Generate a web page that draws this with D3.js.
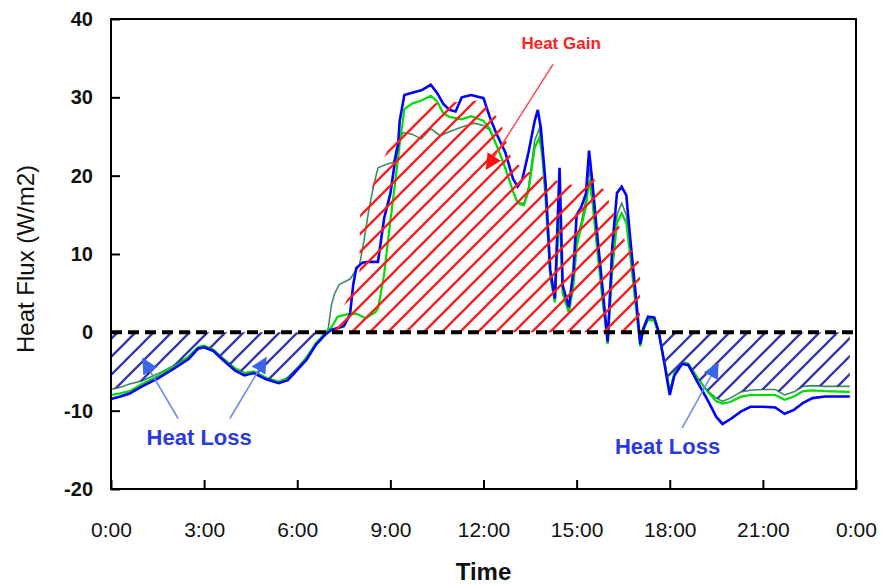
<!DOCTYPE html>
<html><head><meta charset="utf-8">
<script src="https://cdn.jsdelivr.net/npm/d3@7/dist/d3.min.js"></script>
<style>
html,body{margin:0;padding:0;background:#fff;}
svg{display:block;font-family:"Liberation Sans",Arial,sans-serif;}
</style></head>
<body><svg id="chart" width="885" height="584"></svg>
<script>
// ---------- data (hour of day, heat flux W/m2) ----------
const xTickHours = [0,3,6,9,12,15,18,21,24];
const xTickLabels = ["0:00","3:00","6:00","9:00","12:00","15:00","18:00","21:00","0:00"];
const yTicks = [-20,-10,0,10,20,30,40];
const yTickLabels = ["-20","-10","0","10","20","30","40"];

const blueSeries = [
[0,-8.5],[0.3,-8.2],[0.6,-7.8],[1.0,-6.9],[1.5,-5.9],[2.0,-4.7],[2.5,-3.4],[2.8,-2.1],[3.0,-1.9],
[3.3,-2.4],[3.6,-3.5],[4.0,-4.9],[4.3,-5.5],[4.6,-5.2],[5.0,-6.0],[5.4,-6.5],[5.7,-6.1],[6.0,-4.8],
[6.3,-3.5],[6.6,-1.6],[6.9,-0.3],[7.1,0.3],[7.5,0.8],[7.7,2.3],[7.8,6.0],[7.9,8.2],[8.1,8.9],
[8.3,9.0],[8.6,9.0],[8.8,14.6],[9.0,17.7],[9.15,21.9],[9.25,24],[9.3,27],[9.45,30.3],[9.7,30.6],
[10.0,30.9],[10.3,31.6],[10.5,30.6],[10.7,29.2],[10.9,28.4],[11.1,28.2],[11.3,30.0],[11.6,30.3],
[12.0,29.9],[12.2,27.5],[12.4,25.5],[12.7,23],[12.95,19.6],[13.1,18.6],[13.25,19.5],[13.45,23],
[13.65,27],[13.75,28.4],[13.85,26],[14.0,19],[14.15,8],[14.3,4.3],[14.45,21],[14.55,6],[14.75,3.2],
[14.9,8],[15.0,15],[15.15,16],[15.3,17.7],[15.4,23.2],[15.5,19.5],[15.65,13],[15.85,5],[16.0,-1.2],
[16.15,11],[16.3,17.8],[16.45,18.6],[16.6,17.5],[16.75,11],[16.9,5],[17.05,-1.5],[17.15,0.5],
[17.3,2.0],[17.5,1.9],[17.65,0],[17.85,-4.5],[18.0,-8],[18.15,-5.5],[18.4,-4.0],[18.6,-4.2],
[18.9,-6.4],[19.2,-8.5],[19.5,-10.8],[19.7,-11.7],[19.95,-11.1],[20.3,-10.1],[20.6,-9.5],[21.0,-9.5],
[21.4,-9.6],[21.7,-10.4],[22.0,-9.9],[22.3,-9.0],[22.6,-8.4],[23.0,-8.2],[23.6,-8.2],[23.8,-8.2]];

const greenSeries = [
[0,-8.0],[0.3,-7.8],[0.6,-7.5],[1.0,-6.6],[1.5,-5.6],[2.0,-4.4],[2.5,-3.1],[2.8,-1.9],[3.0,-1.7],
[3.3,-2.2],[3.6,-3.3],[4.0,-4.6],[4.3,-5.2],[4.6,-5.0],[5.0,-5.8],[5.4,-6.3],[5.7,-5.8],[6.0,-4.6],
[6.3,-3.2],[6.6,-1.4],[6.9,-0.1],[7.1,0.6],[7.3,2.0],[7.6,2.3],[7.9,2.4],[8.2,1.8],[8.5,2.5],
[8.6,3.0],[8.8,7.4],[8.95,12.6],[9.15,19],[9.3,24],[9.45,28.5],[9.7,29.2],[10.0,29.6],[10.3,30.2],
[10.5,29.5],[10.7,28.0],[10.9,27.5],[11.3,27.2],[11.6,27.6],[12.0,27.0],[12.2,26],[12.45,23.6],
[12.7,21],[12.95,18],[13.1,16.5],[13.3,16.2],[13.45,18],[13.65,23.6],[13.8,24.9],[13.9,22.3],
[14.0,17],[14.15,7],[14.3,3.8],[14.45,16],[14.55,5],[14.75,2.5],[14.9,6],[15.0,11],[15.15,13.5],
[15.3,16],[15.4,19.5],[15.5,17],[15.65,11],[15.85,3.5],[16.0,-1.5],[16.15,8],[16.3,14],[16.45,15.2],
[16.6,14],[16.75,9],[16.9,3.5],[17.05,-1.8],[17.15,0.3],[17.3,1.6],[17.5,1.5],[17.65,-0.3],
[17.85,-4.2],[18.0,-7.5],[18.15,-5.2],[18.4,-3.8],[18.6,-4.0],[18.9,-5.8],[19.2,-7.5],[19.5,-8.8],
[19.7,-9.1],[19.95,-8.9],[20.3,-8.2],[20.6,-8.0],[21.0,-8.0],[21.4,-8.0],[21.7,-8.6],[22.0,-8.2],
[22.3,-7.5],[22.6,-7.4],[23.0,-7.5],[23.8,-7.6]];

const darkGreenSeries = [
[0,-7.3],[0.3,-7.0],[0.6,-6.6],[1.0,-6.2],[1.5,-5.3],[2.0,-4.3],[2.5,-3.1],[2.8,-1.9],[3.0,-1.7],
[3.3,-2.2],[3.6,-3.3],[4.0,-4.6],[4.3,-5.2],[4.6,-5.0],[5.0,-5.8],[5.4,-6.3],[5.7,-5.8],[6.0,-4.6],
[6.3,-3.2],[6.6,-1.4],[6.9,-0.1],[7.0,0.5],[7.1,3.5],[7.2,4.9],[7.35,6.1],[7.7,6.8],[8.0,8.5],
[8.15,11.7],[8.3,15.5],[8.45,18.5],[8.6,21],[8.9,21.5],[9.1,21.7],[9.2,23.6],[9.4,25.5],[9.7,25.3],
[10.0,24.7],[10.3,26],[10.6,25.1],[10.9,25.6],[11.3,26.2],[11.7,26.7],[12.0,26.4],[12.2,25.8],
[12.45,23.6],[12.7,21],[12.95,18],[13.1,16.6],[13.3,16.4],[13.45,18.5],[13.65,24.5],[13.8,26],
[13.9,23],[14.0,17.5],[14.15,7.5],[14.3,4],[14.45,17],[14.55,5],[14.75,2.7],[14.9,6.5],[15.0,12],
[15.15,14],[15.3,17],[15.4,21],[15.5,18],[15.65,12],[15.85,4],[16.0,-1.3],[16.15,9],[16.3,15],
[16.45,16.5],[16.6,15],[16.75,9.5],[16.9,4],[17.05,-1.6],[17.15,0.4],[17.3,1.8],[17.5,1.7],
[17.65,-0.2],[17.85,-4.3],[18.0,-7.6],[18.15,-5.3],[18.4,-3.9],[18.6,-4.1],[18.9,-5.9],[19.2,-7.4],
[19.5,-8.4],[19.7,-8.8],[19.95,-8.4],[20.3,-7.6],[20.6,-7.4],[21.0,-7.3],[21.4,-7.3],[21.7,-8.0],
[22.0,-7.6],[22.3,-6.9],[22.6,-6.8],[23.0,-6.9],[23.8,-6.9]];

// hand-drawn hatched "heat gain" outline
const gainOutline = [
[7.06,0],[7.7,4.9],[8.0,5.9],[8.02,14.9],[9.08,24.9],[9.3,26.4],[10.28,29.2],[11.9,29.6],
[12.53,27.1],[12.92,21.9],[13.5,20.4],[14.14,19.6],[14.95,18.7],[15.37,20.4],[15.9,18.1],
[16.56,11.7],[17.04,8.8],[17.04,0]];

// annotations [label, hour, value]
const gainLabel = ["Heat Gain", 14.5, 36.2];
const lossLabels = [["Heat Loss", 2.84, -14.4], ["Heat Loss", 17.93, -15.5]];
const gainArrow = [[14.24,34.2],[12.1,20.9]];
const lossArrows = [
  [[2.16,-11.0],[1.03,-3.4]],
  [[3.83,-11.0],[4.99,-3.3]],
  [[18.4,-12.2],[19.55,-4.0]]
];

// ---------- drawing ----------
const svg = d3.select("#chart");
const L = 111, R = 856, T = 19, B = 489;
const x = d3.scaleLinear().domain([0,24]).range([L,R]);
const y = d3.scaleLinear().domain([-20,40]).range([B,T]);

const defs = svg.append("defs");
function hatch(id, color){
  defs.append("pattern").attr("id",id).attr("patternUnits","userSpaceOnUse")
    .attr("width",18).attr("height",18)
    .append("path").attr("d","M-4.5,4.5 L4.5,-4.5 M0,18 L18,0 M13.5,22.5 L22.5,13.5")
    .attr("stroke",color).attr("stroke-width",2.3).attr("fill","none");
}
hatch("redHatch","#ff1a1a");
hatch("blueHatch","#3434b4");
function marker(id,color,size){
  defs.append("marker").attr("id",id).attr("viewBox","0 0 10 10").attr("refX",9).attr("refY",5)
    .attr("markerWidth",size).attr("markerHeight",size).attr("markerUnits","userSpaceOnUse")
    .attr("orient","auto")
    .append("path").attr("d","M0,0 L10,5 L0,10 Z").attr("fill",color);
}
marker("arrRed","#ff1010",16);
marker("arrBlue","#3a66e8",16);

const line = d3.line().x(d=>x(d[0])).y(d=>y(d[1]));

// series lines
svg.append("path").datum(darkGreenSeries).attr("d",line).attr("fill","none")
  .attr("stroke","#3d8c5e").attr("stroke-width",1.6);
svg.append("path").datum(greenSeries).attr("d",line).attr("fill","none")
  .attr("stroke","#00dd00").attr("stroke-width",2.2);
svg.append("path").datum(blueSeries).attr("d",line).attr("fill","none")
  .attr("stroke","#0000ff").attr("stroke-width",2.6);

// hatches
svg.append("path").attr("d", line(gainOutline)+"Z").attr("fill","url(#redHatch)");
const lossArea = d3.area().x(d=>x(d[0])).y0(y(0)).y1(d=>y(Math.min(0,d[1])));
svg.append("path").attr("d", lossArea(darkGreenSeries.filter(d=>d[0]<=7.0)))
  .attr("fill","url(#blueHatch)");
svg.append("path").attr("d", lossArea(darkGreenSeries.filter(d=>d[0]>=17.65)))
  .attr("fill","url(#blueHatch)");

// zero line
svg.append("line").attr("x1",x(0)).attr("x2",x(24)).attr("y1",y(0)).attr("y2",y(0))
  .attr("stroke","#000").attr("stroke-width",4).attr("stroke-dasharray","11,6");

// axes
const xAxis = d3.axisBottom(x).tickValues(xTickHours).tickFormat((d,i)=>xTickLabels[i])
  .tickSizeInner(-9).tickSizeOuter(0).tickPadding(33);
const gx = svg.append("g").attr("transform",`translate(0,${B})`).call(xAxis);
gx.selectAll("text").attr("font-size",21).attr("fill","#111").attr("font-family","'Liberation Sans',Arial,sans-serif");
const yAxis = d3.axisLeft(y).tickValues(yTicks).tickFormat((d,i)=>yTickLabels[i])
  .tickSizeInner(-9).tickSizeOuter(0).tickPadding(18);
const gy = svg.append("g").attr("transform",`translate(${L},0)`).call(yAxis);
gy.selectAll("text").attr("font-size",20).attr("font-weight","bold").attr("fill","#111")
  .attr("font-family","'Liberation Sans',Arial,sans-serif");
[gx,gy].forEach(g=>{g.select(".domain").remove(); g.selectAll("line").attr("stroke","#000").attr("stroke-width",2);});

// frame
svg.append("rect").attr("x",L).attr("y",T).attr("width",R-L).attr("height",B-T)
  .attr("fill","none").attr("stroke","#000").attr("stroke-width",2);

// titles
svg.append("text").attr("x",(L+R)/2).attr("y",580).attr("text-anchor","middle")
  .attr("font-size",24).attr("font-weight","bold").attr("fill","#111").text("Time");
svg.append("text").attr("transform",`translate(34,259) rotate(-90)`).attr("text-anchor","middle")
  .attr("font-size",24).attr("fill","#111").text("Heat Flux (W/m2)");

// annotations
svg.append("line").attr("x1",x(gainArrow[0][0])).attr("y1",y(gainArrow[0][1]))
  .attr("x2",x(gainArrow[1][0])).attr("y2",y(gainArrow[1][1]))
  .attr("stroke","#ff4040").attr("stroke-width",1.4).attr("marker-end","url(#arrRed)");
svg.append("text").attr("x",x(gainLabel[1])).attr("y",y(gainLabel[2])).attr("text-anchor","middle")
  .attr("font-size",17).attr("font-weight","bold").attr("fill","#ff2020").text(gainLabel[0]);
lossArrows.forEach(a=>{
  svg.append("line").attr("x1",x(a[0][0])).attr("y1",y(a[0][1])).attr("x2",x(a[1][0])).attr("y2",y(a[1][1]))
    .attr("stroke","#6c8cf0").attr("stroke-width",1.6).attr("marker-end","url(#arrBlue)");
});
lossLabels.forEach(l=>{
  svg.append("text").attr("x",x(l[1])).attr("y",y(l[2])).attr("text-anchor","middle")
    .attr("font-size",22).attr("font-weight","bold").attr("fill","#2a3ae0").text(l[0]);
});
</script></body></html>
